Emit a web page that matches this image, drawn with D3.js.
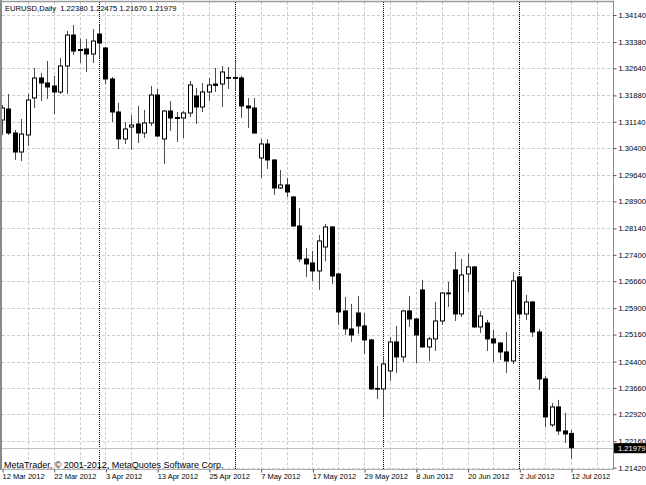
<!DOCTYPE html>
<html><head><meta charset="utf-8">
<script src="https://cdn.jsdelivr.net/npm/d3@7"></script>
<style>html,body{margin:0;padding:0;background:#fff;}svg{display:block;}</style>
</head><body>
<svg id="chart" width="646" height="485"></svg>
<script>
// ---- data ----
const symbolTitle = "EURUSD,Daily";
const copyright = "MetaTrader, \u00A9 2001-2012, MetaQuotes Software Corp.";
const dates = [
 "2012-03-12","2012-03-13","2012-03-14","2012-03-15","2012-03-16","2012-03-19","2012-03-20","2012-03-21","2012-03-22","2012-03-23",
 "2012-03-26","2012-03-27","2012-03-28","2012-03-29","2012-03-30","2012-04-02","2012-04-03","2012-04-04","2012-04-05","2012-04-06",
 "2012-04-09","2012-04-10","2012-04-11","2012-04-12","2012-04-13","2012-04-16","2012-04-17","2012-04-18","2012-04-19","2012-04-20",
 "2012-04-23","2012-04-24","2012-04-25","2012-04-26","2012-04-27","2012-04-30","2012-05-01","2012-05-02","2012-05-03","2012-05-04",
 "2012-05-07","2012-05-08","2012-05-09","2012-05-10","2012-05-11","2012-05-14","2012-05-15","2012-05-16","2012-05-17","2012-05-18",
 "2012-05-21","2012-05-22","2012-05-23","2012-05-24","2012-05-25","2012-05-28","2012-05-29","2012-05-30","2012-05-31","2012-06-01",
 "2012-06-04","2012-06-05","2012-06-06","2012-06-07","2012-06-08","2012-06-11","2012-06-12","2012-06-13","2012-06-14","2012-06-15",
 "2012-06-18","2012-06-19","2012-06-20","2012-06-21","2012-06-22","2012-06-25","2012-06-26","2012-06-27","2012-06-28","2012-06-29",
 "2012-07-02","2012-07-03","2012-07-04","2012-07-05","2012-07-06","2012-07-09","2012-07-10","2012-07-11","2012-07-12"];
const open = [
 1.31190,1.31499,1.30824,1.30290,1.30768,1.31808,1.32370,1.32229,1.32145,1.31976,
 1.32707,1.33578,1.33171,1.33185,1.33044,1.33606,1.33213,1.32342,1.31414,1.30656,
 1.30993,1.31077,1.30824,1.31105,1.31892,1.30656,1.31442,1.31260,1.31246,1.31386,
 1.31864,1.31555,1.31976,1.32201,1.32201,1.32370,1.32384,1.32370,1.31583,1.31527,
 1.30122,1.30515,1.30066,1.29279,1.29363,1.29026,1.28211,1.27284,1.27171,1.26946,
 1.27621,1.28183,1.26862,1.25822,1.25317,1.25766,1.25401,1.25008,1.23631,1.23631,
 1.24136,1.24951,1.24530,1.25822,1.25598,1.26413,1.24811,1.25036,1.25541,1.26314,
 1.26975,1.25738,1.26862,1.27059,1.25373,1.25485,1.25036,1.24923,1.24670,1.24417,
 1.26778,1.25738,1.26075,1.25232,1.23912,1.22619,1.23125,1.22450,1.22380];
const high = [
 1.31611,1.31920,1.30909,1.31218,1.31920,1.32651,1.32510,1.32847,1.32426,1.32932,
 1.33690,1.33859,1.33466,1.33466,1.33747,1.33859,1.33241,1.32398,1.31667,1.31133,
 1.31330,1.31583,1.31471,1.32145,1.32061,1.31471,1.31723,1.31414,1.31442,1.32285,
 1.32089,1.32229,1.32370,1.32651,1.32707,1.32679,1.32847,1.32426,1.31808,1.31808,
 1.30656,1.30656,1.30080,1.29785,1.29560,1.29054,1.28717,1.27593,1.27508,1.27958,
 1.28267,1.28211,1.26880,1.26216,1.26019,1.26244,1.25766,1.25036,1.24277,1.24558,
 1.25092,1.25401,1.25850,1.26244,1.25626,1.26694,1.25092,1.26075,1.26356,1.26637,
 1.27480,1.27284,1.27424,1.27087,1.25822,1.25570,1.25289,1.24951,1.25232,1.26918,
 1.26806,1.26272,1.26103,1.25317,1.23996,1.23237,1.23322,1.22956,1.22475];
const low = [
 1.30768,1.30768,1.30066,1.30037,1.30459,1.31527,1.31723,1.31780,1.31358,1.31920,
 1.31920,1.33016,1.32791,1.32538,1.32791,1.32932,1.32201,1.31133,1.30375,1.30515,
 1.30347,1.30543,1.30684,1.31021,1.30712,1.29953,1.30880,1.30571,1.30684,1.31274,
 1.31077,1.31414,1.31723,1.31976,1.31555,1.32061,1.32033,1.31246,1.30965,1.30796,
 1.29560,1.29813,1.29082,1.29251,1.29026,1.28183,1.27199,1.26778,1.26665,1.26413,
 1.27227,1.26581,1.25429,1.25148,1.24951,1.25176,1.24614,1.23603,1.23350,1.22872,
 1.23855,1.24080,1.24389,1.25373,1.24361,1.24783,1.24417,1.24698,1.25429,1.25935,
 1.25541,1.25654,1.26356,1.25345,1.25204,1.24698,1.24389,1.24446,1.24080,1.24333,
 1.25598,1.25570,1.25092,1.23603,1.22563,1.22563,1.22338,1.22113,1.21670];
const close = [
 1.31527,1.30824,1.30290,1.30796,1.31752,1.32370,1.32229,1.32117,1.31976,1.32707,
 1.33578,1.33128,1.33142,1.33044,1.33409,1.33353,1.32342,1.31414,1.30656,1.30937,
 1.31049,1.30824,1.31105,1.31892,1.30740,1.31442,1.31246,1.31232,1.31386,1.32173,
 1.31555,1.31976,1.32173,1.32159,1.32538,1.32384,1.32370,1.31583,1.31527,1.30824,
 1.30515,1.30066,1.29279,1.29363,1.29166,1.28211,1.27284,1.27143,1.26946,1.27789,
 1.28183,1.26806,1.25794,1.25317,1.25148,1.25401,1.25008,1.23631,1.23645,1.24333,
 1.24951,1.24530,1.25822,1.25598,1.25148,1.24811,1.25036,1.25541,1.26328,1.26328,
 1.25738,1.26834,1.27059,1.25373,1.25682,1.25036,1.24923,1.24670,1.24417,1.26665,
 1.25738,1.26075,1.25232,1.23912,1.22844,1.23125,1.22450,1.22366,1.21979];
const yTickValues = [1.34140,1.33380,1.32640,1.31880,1.31140,1.30400,1.29640,1.28900,1.28140,
 1.27400,1.26660,1.25900,1.25160,1.24400,1.23660,1.22920,1.22160,1.21420];
const xLabelDates = ["2012-03-12","2012-03-22","2012-04-03","2012-04-13","2012-04-25","2012-05-07",
 "2012-05-17","2012-05-29","2012-06-08","2012-06-20","2012-07-02","2012-07-12"];
const xLabelTexts = ["12 Mar 2012","22 Mar 2012","3 Apr 2012","13 Apr 2012","25 Apr 2012","7 May 2012",
 "17 May 2012","29 May 2012","8 Jun 2012","20 Jun 2012","2 Jul 2012","12 Jul 2012"];

// ---- drawing ----
const svg = d3.select("#chart");
const FONT = "'Liberation Sans', Arial, sans-serif";
const P = {left: 2, right: 613, top: 2, bottom: 469.5};

const x = d3.scaleLinear().domain([0, dates.length - 1]).range([2, 571]);
const y = d3.scaleLinear().domain([1.21420, 1.34140]).range([467.6, 15]);
const crisp = v => Math.round(v) + 0.5;

svg.append("rect").attr("width", 646).attr("height", 485).attr("fill", "#ffffff");

// horizontal grid
svg.append("g").selectAll("line").data(yTickValues).join("line")
  .attr("x1", P.left).attr("x2", P.right)
  .attr("y1", d => crisp(y(d))).attr("y2", d => crisp(y(d)))
  .attr("stroke", "#cccccc").attr("stroke-dasharray", "3,2");

// vertical grid every 4 bars (continues into empty right margin)
const gridIdx = d3.range(4, 93, 4);
svg.append("g").selectAll("line").data(gridIdx).join("line")
  .attr("x1", d => crisp(x(d))).attr("x2", d => crisp(x(d)))
  .attr("y1", P.top).attr("y2", P.bottom)
  .attr("stroke", "#cccccc").attr("stroke-dasharray", "3,2");

// month separators
const sepIdx = dates.map((d, i) => i).filter(i => i > 0 && dates[i].slice(5, 7) !== dates[i - 1].slice(5, 7));
svg.append("g").selectAll("line").data(sepIdx).join("line")
  .attr("x1", d => crisp(x(d))).attr("x2", d => crisp(x(d)))
  .attr("y1", P.top).attr("y2", P.bottom)
  .attr("stroke", "#000000").attr("stroke-dasharray", "1,1");

// last price line
const last = dates.length - 1;
svg.append("line")
  .attr("x1", P.left).attr("x2", P.right)
  .attr("y1", crisp(y(close[last]))).attr("y2", crisp(y(close[last])))
  .attr("stroke", "#c0c0c0");

// candles
const bars = d3.range(dates.length);
const cg = svg.append("g");
cg.selectAll("line.wick").data(bars).join("line").attr("class", "wick")
  .attr("x1", i => crisp(x(i))).attr("x2", i => crisp(x(i)))
  .attr("y1", i => y(high[i])).attr("y2", i => y(low[i]))
  .attr("stroke", "#4a4a4a").attr("stroke-width", 1);
const bw = 4;
cg.selectAll("rect.body").data(bars).join("rect").attr("class", "body")
  .attr("x", i => crisp(x(i)) - bw / 2)
  .attr("y", i => Math.min(y(open[i]), y(close[i])))
  .attr("width", bw)
  .attr("height", i => Math.max(0.8, Math.abs(y(open[i]) - y(close[i]))))
  .attr("fill", i => close[i] >= open[i] ? "#ffffff" : "#000000")
  .attr("stroke", "#000000").attr("stroke-width", 1);

// frame
svg.append("line").attr("x1", 1).attr("x2", 1).attr("y1", 0).attr("y2", 470).attr("stroke", "#8a8a8a").attr("stroke-width", 2);
svg.append("line").attr("x1", 0).attr("x2", 614).attr("y1", 1.5).attr("y2", 1.5).attr("stroke", "#9a9a9a").attr("stroke-width", 1.5);
svg.append("line").attr("x1", 613.5).attr("x2", 613.5).attr("y1", 1).attr("y2", 470).attr("stroke", "#8a8a8a");
svg.append("line").attr("x1", 1).attr("x2", 614).attr("y1", 469.5).attr("y2", 469.5).attr("stroke", "#b0b0b0");

// right price axis
const yAxis = d3.axisRight(y).tickValues(yTickValues).tickFormat(d3.format(".5f")).tickSize(3).tickPadding(2);
const ya = svg.append("g").attr("transform", "translate(613.5,0)").call(yAxis);
ya.select(".domain").remove();
ya.selectAll(".tick line").attr("stroke", "#555");
ya.selectAll("text").attr("font-family", FONT).attr("font-size", "7.6px").attr("fill", "#000");

// current price box
const cy = y(close[last]);
svg.append("rect").attr("x", 614).attr("y", cy - 4.5).attr("width", 32).attr("height", 10).attr("fill", "#000");
svg.append("text").attr("x", 618).attr("y", cy + 0.5).attr("dy", "0.34em")
  .attr("font-family", FONT).attr("font-size", "7.6px").attr("fill", "#fff")
  .text(d3.format(".5f")(close[last]));

// bottom time axis
const xAxis = d3.axisBottom(x)
  .tickValues(xLabelDates.map(d => dates.indexOf(d)))
  .tickFormat((d, k) => xLabelTexts[k]).tickSize(3).tickPadding(1);
const xa = svg.append("g").attr("transform", "translate(0.5,469.5)").call(xAxis);
xa.select(".domain").remove();
xa.selectAll(".tick line").attr("stroke", "#555");
xa.selectAll("text").attr("text-anchor", "start").attr("x", -0.5)
  .attr("font-family", FONT).attr("font-size", "7.5px").attr("fill", "#000");

// title
const f5 = d3.format(".5f");
svg.append("text").attr("x", 5).attr("y", 10.5)
  .attr("font-family", FONT).attr("font-size", "7.6px").attr("fill", "#000")
  .style("white-space", "pre")
  .text(symbolTitle + "  " + [open[last], high[last], low[last], close[last]].map(f5).join(" "));

// copyright
svg.append("text").attr("x", 4).attr("y", 467.5)
  .attr("font-family", FONT).attr("font-size", "9px").attr("fill", "#000")
  .text(copyright);
</script>
</body></html>
